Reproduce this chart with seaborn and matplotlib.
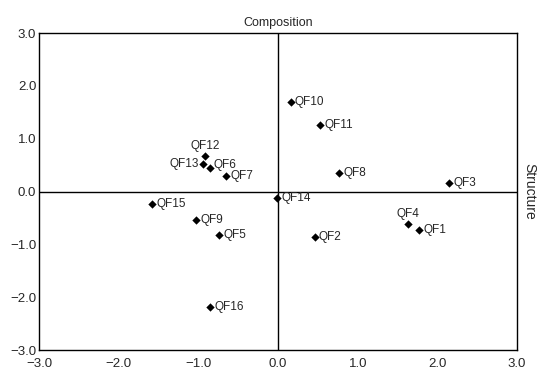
import pandas as pd
import numpy as np
import matplotlib.pyplot as plt
import seaborn as sns

# ==========================================
# Data
# ==========================================

labels = ["QF1", "QF2", "QF3", "QF4", "QF5", "QF6", "QF7", "QF8",
          "QF9", "QF10", "QF11", "QF12", "QF13", "QF14", "QF15", "QF16"]
composition = [1.77, 0.46, 2.15, 1.63, -0.74, -0.85, -0.65, 0.77,
               -1.03, 0.16, 0.53, -0.92, -0.94, -0.01, -1.58, -0.85]
structure = [-0.73, -0.86, 0.16, -0.62, -0.82, 0.45, 0.29, 0.35,
             -0.54, 1.70, 1.26, 0.67, 0.52, -0.12, -0.24, -2.19]

df = pd.DataFrame({"label": labels, "x": composition, "y": structure})

ticks = [-3.0, -2.0, -1.0, 0.0, 1.0, 2.0, 3.0]
tick_labels = ["\u22123.0", "\u22122.0", "\u22121.0", "0.0", "1.0", "2.0", "3.0"]

# ==========================================
# Plot
# ==========================================

sns.set_style("white")
plt.rcParams['font.family'] = ['Liberation Sans', 'DejaVu Sans']

fig = plt.figure(figsize=(5.42, 3.77), dpi=100)
ax = fig.add_axes([0.072, 0.0716, 0.882, 0.8404])

sns.scatterplot(data=df, x="x", y="y", marker="D", color="black",
                s=18, edgecolor="black", linewidth=0, ax=ax, zorder=3)

ax.axhline(0, color="black", lw=1.0, zorder=1)
ax.axvline(0, color="black", lw=1.0, zorder=1)

# label placement: most to the right, a few above / left
for _, r in df.iterrows():
    if r["label"] in ("QF12", "QF4"):
        ax.annotate(r["label"], (r["x"], r["y"]), xytext=(0, 3),
                    textcoords="offset points", ha="center", va="bottom",
                    fontsize=8.5)
    elif r["label"] == "QF13":
        ax.annotate(r["label"], (r["x"], r["y"]), xytext=(-3, 0),
                    textcoords="offset points", ha="right", va="center",
                    fontsize=8.5)
    elif r["label"] == "QF6":
        ax.annotate(r["label"], (r["x"], r["y"]), xytext=(2, 2),
                    textcoords="offset points", ha="left", va="center",
                    fontsize=8.5)
    else:
        ax.annotate(r["label"], (r["x"], r["y"]), xytext=(3, 0),
                    textcoords="offset points", ha="left", va="center",
                    fontsize=8.5)

ax.set_xlim(-3, 3)
ax.set_ylim(-3, 3)
ax.set_xticks(ticks)
ax.set_xticklabels(tick_labels, fontsize=9.5)
ax.set_yticks(ticks)
ax.set_yticklabels(tick_labels, fontsize=9.5)
ax.tick_params(axis="y", length=0, pad=2)
ax.tick_params(axis="x", length=0, pad=6)

ax.set_xlabel("")
ax.set_title("Composition", fontsize=9, pad=5)

ax.yaxis.set_label_position("right")
ax.set_ylabel("Structure", rotation=270, fontsize=10, labelpad=14)

for sp in ax.spines.values():
    sp.set_color("black")
    sp.set_linewidth(1.0)

plt.savefig("out.png", dpi=100)
